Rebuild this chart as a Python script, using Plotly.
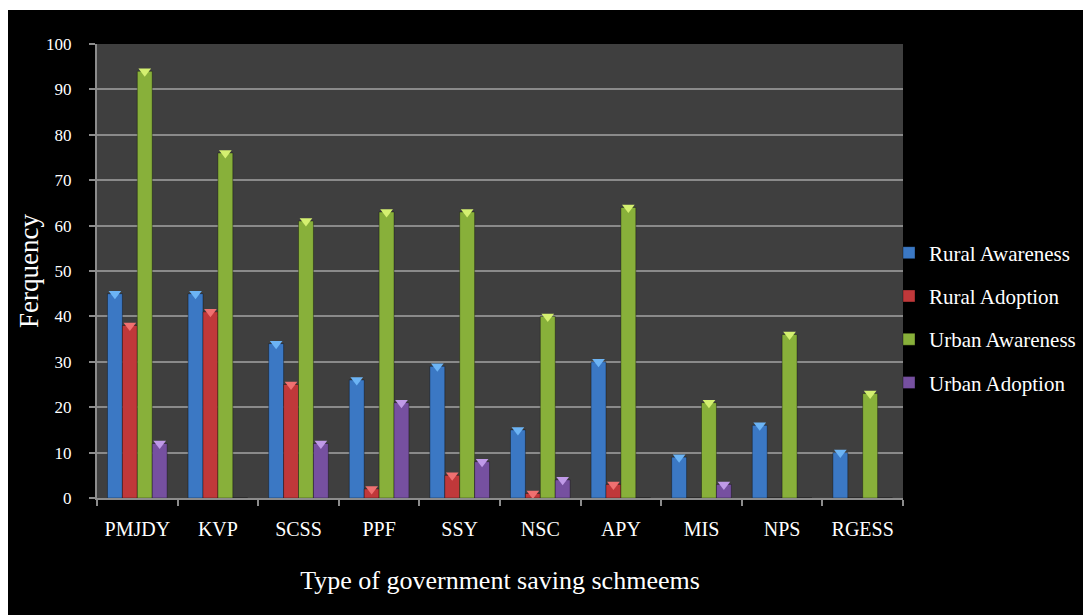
import plotly.graph_objects as go

schemes = ["PMJDY", "KVP", "SCSS", "PPF", "SSY", "NSC", "APY", "MIS", "NPS", "RGESS"]
rural_awareness = [45, 45, 34, 26, 29, 15, 30, 9, 16, 10]
rural_adoption = [38, 41, 25, 2, 5, 1, 3, 0, 0, 0]
urban_awareness = [94, 76, 61, 63, 63, 40, 64, 21, 36, 23]
urban_adoption = [12, 0, 12, 21, 8, 4, 0, 3, 0, 0]
y_ticks = list(range(0, 101, 10))

series = [
    ("Rural Awareness", rural_awareness, "#3b78c4", "#6cb4f5"),
    ("Rural Adoption", rural_adoption, "#c0383a", "#f07070"),
    ("Urban Awareness", urban_awareness, "#88b03a", "#d4f070"),
    ("Urban Adoption", urban_adoption, "#7650a0", "#c09ae8"),
]

FONT = "Liberation Serif, Times New Roman, serif"
GAP = 0.26

fig = go.Figure()
for i, (name, vals, col, top) in enumerate(series):
    fig.add_trace(go.Bar(
        name=name, x=schemes, y=vals, offsetgroup=str(i), legendgroup=str(i),
        marker=dict(color=col, line=dict(color="rgba(0,0,0,0.35)", width=1)),
    ))
# lighter bevel on top of each bar
for i, (name, vals, col, top) in enumerate(series):
    xs = [s for s, v in zip(schemes, vals) if v > 0]
    ys = [v for v in vals if v > 0]
    fig.add_trace(go.Scatter(
        x=xs, y=ys, mode="markers", offsetgroup=str(i), showlegend=False,
        hoverinfo="skip",
        marker=dict(symbol="triangle-down", size=11, color=top,
                    line=dict(width=0)),
        cliponaxis=False,
    ))

# plot area in pixels: left 97, right 903, top 44, bottom 498
L, R, T, B = 97, 903, 44, 498
W, H = 1083, 615
def px_x(p):
    return (p - L) / (R - L)
def px_y(p):
    return (B - p) / (B - T)

fig.add_shape(type="rect", xref="paper", yref="paper", layer="below",
              x0=px_x(8), x1=px_x(W + 2), y0=px_y(H + 2), y1=px_y(10),
              fillcolor="black", line=dict(width=0))
fig.add_shape(type="rect", xref="paper", yref="paper", layer="below",
              x0=0, x1=1, y0=0, y1=1,
              fillcolor="#3f3f3f", line=dict(width=0))

fig.update_layout(
    width=W, height=H,
    paper_bgcolor="white", plot_bgcolor="#3f3f3f",
    margin=dict(l=L, r=W - R, t=T, b=H - B, autoexpand=False),
    barmode="group", bargap=GAP, bargroupgap=0,
    scattermode="group", scattergap=GAP,
    font=dict(family=FONT, color="white", size=17),
    legend=dict(x=px_x(889), y=px_y(318), xanchor="left", yanchor="middle",
                font=dict(size=21, color="white", family=FONT),
                tracegroupgap=13, itemwidth=30, bgcolor="rgba(0,0,0,0)"),
    xaxis=dict(
        title=dict(text="Type of government saving schmeems",
                   font=dict(size=26, family=FONT, color="white"), standoff=32),
        showgrid=False, showline=True, linecolor="#8c8c8c", linewidth=2,
        ticks="outside", tickson="boundaries", ticklen=6, tickcolor="#8c8c8c",
        tickwidth=2, tickfont=dict(size=20, color="white"),
        ticklabelstandoff=12,
    ),
    yaxis=dict(
        title=dict(text="Ferquency", font=dict(size=27, family=FONT, color="white"),
                   standoff=0),
        range=[0, 100], tickvals=y_ticks, showgrid=True, gridcolor="#8a8a8a",
        gridwidth=2, showline=True, linecolor="#8c8c8c", linewidth=2,
        ticks="outside", ticklen=6, tickcolor="#8c8c8c", tickwidth=2,
        tickfont=dict(size=17, color="white"), zeroline=False,
        ticklabelstandoff=14,
    ),
)

fig.write_html("out.html")
